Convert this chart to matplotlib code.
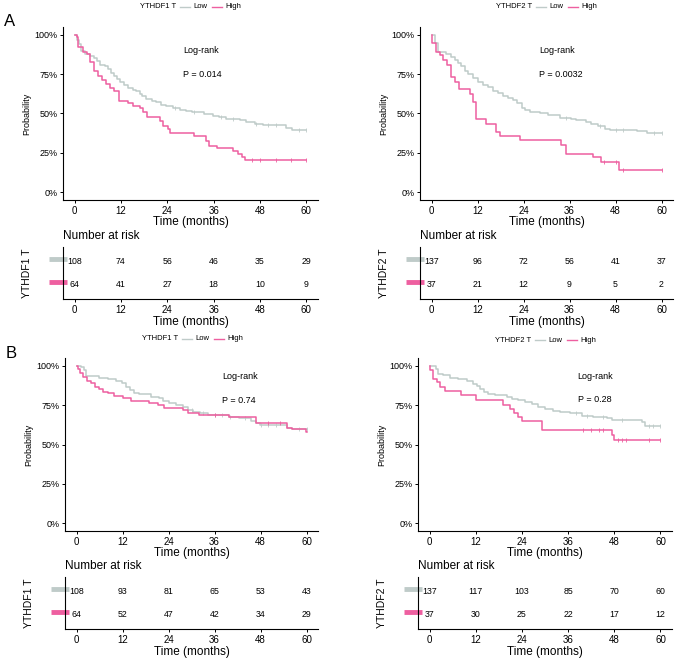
import matplotlib
matplotlib.use("Agg")
import matplotlib.pyplot as plt
from matplotlib.lines import Line2D
from matplotlib.transforms import blended_transform_factory

plt.rcParams["font.family"] = ["Liberation Sans", "DejaVu Sans"]

W, H = 677, 659
LOW_COLOR = "#BFCBC9"
HIGH_COLOR = "#EE5FA0"

months = [0, 12, 24, 36, 48, 60]
prob_ticks = [0, 0.25, 0.5, 0.75, 1.0]
prob_labels = ["0%", "25%", "50%", "75%", "100%"]

# A, YTHDF1 (overall survival)
a1_low_t = [0.5, 1.1, 1.7, 2.6, 3.9, 4.9, 5.8, 6.5, 7.8, 8.6, 9.5, 10.3, 10.9, 11.8, 12.7,
            13.8, 15.0, 16.0, 16.8, 17.5, 18.5, 20.1, 21.1, 22.4, 23.7, 25.4, 27.2, 28.9, 30.4,
            33.4, 35.8, 37.5, 39.2, 42.7, 44.4, 46.6, 48.7, 54.7, 56.3]
a1_low_s = [0.97, 0.94, 0.90, 0.88, 0.867, 0.85, 0.835, 0.81, 0.80, 0.78, 0.76, 0.74, 0.72, 0.70,
            0.68, 0.66, 0.65, 0.64, 0.625, 0.61, 0.59, 0.58, 0.57, 0.557, 0.545, 0.536, 0.523,
            0.515, 0.51, 0.494, 0.487, 0.477, 0.466, 0.456, 0.445, 0.435, 0.424, 0.41, 0.397]
a1_low_cens = [26, 31, 38, 41, 47, 50, 52, 58, 60]
a1_high_t = [0.7, 1.0, 2.2, 3.2, 3.9, 5.0, 6.0, 7.2, 8.2, 9.1, 10.2, 11.5, 13.8, 15.0, 16.8,
             17.8, 18.7, 22.2, 23.0, 24.1, 24.7, 30.9, 33.9, 34.9, 36.9, 40.9, 42.2, 43.4, 44.2]
a1_high_s = [0.984, 0.924, 0.89, 0.878, 0.83, 0.768, 0.74, 0.71, 0.69, 0.66, 0.645, 0.58, 0.565,
             0.55, 0.536, 0.51, 0.48, 0.45, 0.42, 0.40, 0.375, 0.36, 0.325, 0.295, 0.28, 0.262,
             0.24, 0.222, 0.207]
a1_high_cens = [46, 48, 52, 56, 60]
a1_risk_low = [108, 74, 56, 46, 35, 29]
a1_risk_high = [64, 41, 27, 18, 10, 9]

# A, YTHDF2
a2_low_t = [0.9, 1.7, 3.9, 5.2, 6.1, 7.0, 7.8, 8.7, 9.6, 10.9, 12.2, 13.5, 14.8, 16.1, 17.4,
            18.7, 20.0, 21.3, 22.2, 23.5, 24.3, 25.7, 28.3, 30.4, 33.5, 36.5, 37.8, 40.4, 41.7,
            43.5, 45.2, 46.5, 53.5, 56.1]
a2_low_s = [0.95, 0.894, 0.88, 0.86, 0.84, 0.82, 0.80, 0.77, 0.75, 0.723, 0.70, 0.68, 0.666,
            0.645, 0.628, 0.61, 0.596, 0.585, 0.564, 0.538, 0.521, 0.51, 0.50, 0.489, 0.474,
            0.468, 0.457, 0.447, 0.432, 0.419, 0.404, 0.398, 0.39, 0.377]
a2_low_cens = [35, 44, 48, 50, 58, 60]
a2_high_t = [0.2, 1.3, 2.2, 3.0, 4.1, 5.0, 6.1, 7.1, 10.0, 10.9, 11.7, 14.1, 16.8, 17.8, 23.0,
             33.9, 35.0, 42.0, 44.2, 49.0]
a2_high_s = [0.95, 0.894, 0.872, 0.84, 0.81, 0.73, 0.70, 0.653, 0.623, 0.57, 0.464, 0.436, 0.38,
             0.355, 0.33, 0.30, 0.245, 0.223, 0.19, 0.143]
a2_high_cens = [45, 48, 50, 60]
a2_risk_low = [137, 96, 72, 56, 41, 37]
a2_risk_high = [37, 21, 12, 9, 5, 2]

# B, YTHDF1
b1_low_t = [1.1, 2.0, 2.6, 5.9, 8.1, 10.3, 11.9, 12.9, 13.9, 15.1, 16.4, 19.4, 21.6, 22.5, 24.2,
            26.0, 27.7, 29.0, 30.3, 32.1, 34.3, 39.9, 42.5, 45.6, 46.9, 47.8, 54.9, 56.1]
b1_low_s = [0.99, 0.974, 0.936, 0.925, 0.915, 0.906, 0.889, 0.868, 0.847, 0.83, 0.82, 0.804,
            0.794, 0.779, 0.766, 0.75, 0.736, 0.72, 0.709, 0.698, 0.687, 0.672, 0.666, 0.651,
            0.638, 0.625, 0.608, 0.596]
b1_low_cens = [30, 33, 36, 38, 40, 44, 48, 50, 52, 58, 60]
b1_high_t = [0.3, 1.0, 1.8, 2.7, 3.7, 4.9, 5.9, 7.0, 8.1, 9.9, 12.0, 14.2, 19.0, 21.2, 22.9,
             27.7, 29.0, 31.9, 39.9, 46.9, 54.9, 56.1, 59.8]
b1_high_s = [0.98, 0.957, 0.93, 0.906, 0.89, 0.868, 0.85, 0.834, 0.826, 0.81, 0.794, 0.779,
             0.766, 0.75, 0.73, 0.72, 0.70, 0.687, 0.672, 0.634, 0.608, 0.596, 0.579]
b1_high_cens = [36, 50, 53]
b1_risk_low = [108, 93, 81, 65, 53, 43]
b1_risk_high = [64, 52, 47, 42, 34, 29]

# B, YTHDF2
b2_low_t = [1.8, 2.1, 3.6, 5.4, 7.5, 9.7, 11.4, 12.3, 13.1, 14.2, 15.3, 17.0, 20.1, 21.3, 23.1,
            24.8, 26.5, 28.3, 30.0, 32.2, 33.9, 36.5, 39.5, 42.5, 46.0, 47.3, 55.1, 55.9]
b2_low_s = [0.983, 0.95, 0.94, 0.923, 0.915, 0.902, 0.887, 0.872, 0.855, 0.833, 0.818, 0.812,
            0.801, 0.79, 0.78, 0.77, 0.758, 0.737, 0.726, 0.716, 0.705, 0.699, 0.684, 0.673,
            0.667, 0.656, 0.641, 0.615]
b2_low_cens = [38, 41, 45, 50, 57, 58, 60]
b2_high_t = [0.2, 1.0, 1.9, 2.8, 4.1, 8.1, 12.1, 19.0, 20.9, 22.0, 23.1, 24.0, 29.1, 47.3, 47.9]
b2_high_s = [0.972, 0.919, 0.897, 0.865, 0.84, 0.816, 0.784, 0.752, 0.726, 0.70, 0.675, 0.652,
             0.594, 0.56, 0.528]
b2_high_cens = [40, 42, 44, 45, 49, 50, 51, 57, 60]
b2_risk_low = [137, 117, 103, 85, 70, 60]
b2_risk_high = [37, 30, 25, 22, 17, 12]


def box(left, top, right, bottom):
    """Pixel box -> figure fraction rect."""
    return [left / W, 1 - bottom / H, (right - left) / W, (bottom - top) / H]


def surv_at(times, surv, t):
    s = 1.0
    for ti, si in zip(times, surv):
        if ti <= t:
            s = si
    return s


def style_axis(ax):
    for side in ("top", "right"):
        ax.spines[side].set_visible(False)
    for side in ("left", "bottom"):
        ax.spines[side].set_linewidth(0.8)
    ax.tick_params(length=2.5, width=0.7, pad=1.5, labelsize=7)
    ax.set_xlim(-3, 63)
    ax.set_xticks(months)


def draw_curve(ax, times, surv, cens, color):
    xs = [0] + times + [60]
    ys = [1.0] + surv + [surv[-1]]
    ax.step(xs, ys, where="post", color=color, lw=1.1)
    ax.plot(cens, [surv_at(times, surv, c) for c in cens], ls="none", marker="|",
            ms=2.5, mew=0.6, color=color)


def km_panel(rect, low, high, pval, txt_xy):
    ax = fig.add_axes(rect)
    draw_curve(ax, *low, LOW_COLOR)
    draw_curve(ax, *high, HIGH_COLOR)
    style_axis(ax)
    ax.set_ylim(-0.05, 1.05)
    ax.set_yticks(prob_ticks)
    ax.set_yticklabels(prob_labels, fontsize=6.5)
    ax.set_ylabel("Probability", fontsize=6.5, labelpad=2)
    ax.set_xlabel("Time (months)", fontsize=8.5, labelpad=0)
    tx, ty1, ty2 = txt_xy
    ax.text(tx, ty1, "Log-rank", fontsize=6.5, va="center")
    ax.text(tx, ty2, "P = " + pval, fontsize=6.5, va="center")
    return ax


def risk_panel(rect, gene, low_n, high_n):
    ax = fig.add_axes(rect)
    style_axis(ax)
    ax.set_ylim(-0.6, 1.6)
    ax.set_yticks([])
    for m, n in zip(months, low_n):
        ax.text(m, 1, str(n), fontsize=6.3, ha="center", va="center")
    for m, n in zip(months, high_n):
        ax.text(m, 0, str(n), fontsize=6.3, ha="center", va="center")
    trans = blended_transform_factory(ax.transAxes, ax.transData)
    for yv, col in ((1.1, LOW_COLOR), (0.1, HIGH_COLOR)):
        ax.add_line(Line2D([-0.055, 0.016], [yv, yv], transform=trans, color=col,
                           lw=3.5, solid_capstyle="butt", clip_on=False))
    ax.set_xlabel("Time (months)", fontsize=8.5, labelpad=1)
    ax.text(0.0, 1.22, "Number at risk", transform=ax.transAxes, fontsize=8.5, va="center")
    ax.set_ylabel(gene, fontsize=7.5, labelpad=22)
    return ax


def legend(x0, y, gene):
    fig.text(x0 / W, 1 - y / H, gene, fontsize=5.5, va="center")
    pieces = [(40, 50, LOW_COLOR, "Low"), (72, 82, HIGH_COLOR, "High")]
    for a, b, col, lab in pieces:
        fig.add_artist(Line2D([(x0 + a) / W, (x0 + b) / W], [1 - y / H] * 2, color=col, lw=1.0))
        fig.text((x0 + b + 3) / W, 1 - y / H, lab, fontsize=5.5, va="center")


fig = plt.figure(figsize=(W / 100, H / 100), dpi=100)

km_panel(box(63, 27, 318, 200), (a1_low_t, a1_low_s, a1_low_cens),
         (a1_high_t, a1_high_s, a1_high_cens), "0.014", (28, 0.90, 0.75))
risk_panel(box(63, 247, 318, 299), "YTHDF1 T", a1_risk_low, a1_risk_high)
km_panel(box(420, 27, 673, 200), (a2_low_t, a2_low_s, a2_low_cens),
         (a2_high_t, a2_high_s, a2_high_cens), "0.0032", (28, 0.90, 0.75))
risk_panel(box(420, 247, 673, 299), "YTHDF2 T", a2_risk_low, a2_risk_high)

km_panel(box(65, 358, 318, 531), (b1_low_t, b1_low_s, b1_low_cens),
         (b1_high_t, b1_high_s, b1_high_cens), "0.74", (38, 0.93, 0.78))
risk_panel(box(65, 577, 318, 629), "YTHDF1 T", b1_risk_low, b1_risk_high)
km_panel(box(418, 358, 672, 531), (b2_low_t, b2_low_s, b2_low_cens),
         (b2_high_t, b2_high_s, b2_high_cens), "0.28", (38.5, 0.935, 0.785))
risk_panel(box(418, 577, 672, 629), "YTHDF2 T", b2_risk_low, b2_risk_high)

legend(140, 7, "YTHDF1 T")
legend(496, 7, "YTHDF2 T")
legend(142, 339, "YTHDF1 T")
legend(495, 340, "YTHDF2 T")

fig.text(4 / W, 1 - 21 / H, "A", fontsize=12, va="center")
fig.text(6 / W, 1 - 353 / H, "B", fontsize=12, va="center")

fig.savefig("out.png", dpi=100)
